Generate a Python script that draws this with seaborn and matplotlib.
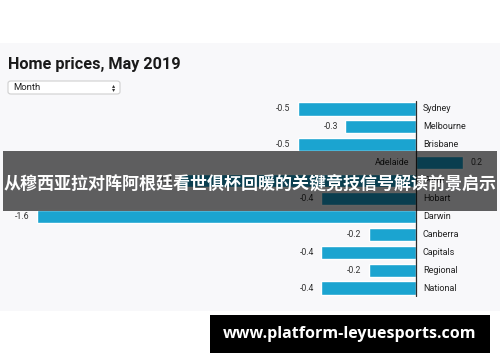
import matplotlib
matplotlib.use("Agg")
import matplotlib.pyplot as plt
from matplotlib.patches import Rectangle, FancyBboxPatch
import seaborn as sns
import pandas as pd

# Data
cities = ["Sydney", "Melbourne", "Brisbane", "Adelaide", "Perth", "Hobart",
          "Darwin", "Canberra", "Capitals", "Regional", "National"]
changes = [-0.5, -0.3, -0.5, 0.2, -1.0, -0.4, -1.6, -0.2, -0.4, -0.2, -0.4]

title = "Home prices, May 2019"
dropdown_label = "Month"
banner_text = "从穆西亚拉对阵阿根廷看世俱杯回暖的关键竞技信号解读前景启示"
watermark = "www.platform-leyuesports.com"

BAR_COLOR = "#1ba4d0"
W, H = 500, 362

sns.set_theme(style="white")
plt.rcParams["font.family"] = ["Roboto", "DejaVu Sans"]

fig = plt.figure(figsize=(W / 100, H / 100), dpi=100)
fig.patch.set_facecolor("white")

def fx(px):
    return px / W

def fy(py):
    return 1 - py / H

# light gray panel behind the chart
fig.patches.append(Rectangle((0, fy(311)), 1, fy(43) - fy(311),
                             transform=fig.transFigure, facecolor="#f8f8fa",
                             edgecolor="none", zorder=-5))

fig.text(fx(8), fy(64), title, fontsize=11.7, fontweight="bold",
         color="#1a1a1a", va="center", ha="left")

# dropdown
fig.patches.append(FancyBboxPatch((fx(8), fy(94)), fx(112), fy(81) - fy(94),
                                  boxstyle="round,pad=0,rounding_size=0.006",
                                  transform=fig.transFigure, facecolor="white",
                                  edgecolor="#cfcfcf", linewidth=0.8, zorder=-4))
fig.text(fx(13), fy(87.5), dropdown_label, fontsize=6.8, color="#222222",
         va="center", ha="left")
fig.text(fx(114), fy(87.5), "▴\n▾", fontsize=4.5, color="#333333",
         va="center", ha="center", linespacing=0.8, family="DejaVu Sans")

# chart axes: zero at x=416px, rows centred at y=109 + 18*i
zero_px = 416
px_per_unit = 237
ax = fig.add_axes([0, fy(297), 1, fy(100) - fy(297)])
ax.set_facecolor("none")
ax.set_zorder(2)

df = pd.DataFrame({"city": cities, "change": changes})
sns.barplot(data=df, x="change", y="city", orient="h", color=BAR_COLOR,
            saturation=1, width=0.74, ax=ax, zorder=2)

ax.set_xlim(-zero_px / px_per_unit, (W - zero_px) / px_per_unit)
ax.set_ylim(len(cities) - 0.5, -0.5)
ax.axvline(0, color="#2a2a2a", linewidth=0.9, ymin=0.005, ymax=0.995, zorder=3)

for i, (city, val) in enumerate(zip(cities, changes)):
    if val < 0:
        ax.annotate(f"{val:.1f}", (val, i), xytext=(-5, 0),
                    textcoords="offset points", ha="right", va="center",
                    fontsize=6.3, color="#333333")
        ax.annotate(city, (0, i), xytext=(5, 0), textcoords="offset points",
                    ha="left", va="center", fontsize=6.5, color="#222222")
    else:
        ax.annotate(f"{val:.1f}", (val, i), xytext=(5, 0),
                    textcoords="offset points", ha="left", va="center",
                    fontsize=6.3, color="#333333")
        ax.annotate(city, (0, i), xytext=(-5, 0), textcoords="offset points",
                    ha="right", va="center", fontsize=6.5, color="#222222")

ax.set_xlabel("")
ax.set_ylabel("")
ax.set_xticks([])
ax.set_yticks([])
for s in ax.spines.values():
    s.set_visible(False)

# overlay banner
fig.patches.append(Rectangle((fx(3), fy(211)), fx(494), fy(151) - fy(211),
                             transform=fig.transFigure, facecolor="black",
                             alpha=0.62, edgecolor="none", zorder=10))
fig.text(0.5, fy(184), banner_text, fontsize=12.25, fontweight="bold",
         color="white", ha="center", va="center", zorder=11,
         family=["Noto Sans CJK SC", "DejaVu Sans"])

# watermark
fig.patches.append(Rectangle((fx(210), fy(353)), fx(280), fy(315) - fy(353),
                             transform=fig.transFigure, facecolor="black",
                             edgecolor="none", zorder=10))
fig.text(fx(350), fy(334), watermark, fontsize=11.5, fontweight="bold",
         color="white", ha="center", va="center", zorder=11,
         family=["Open Sans", "DejaVu Sans"])

fig.savefig("out.png", dpi=100)
